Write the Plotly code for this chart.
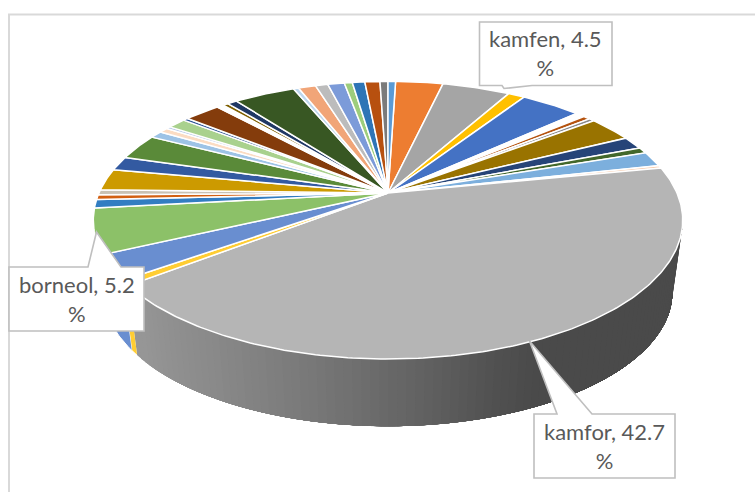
import math
import plotly.graph_objects as go

# ---- data (percent shares) ----
categories = ["složka 1", "kamfen", "složka 3", "složka 4", "složka 5", "složka 6", "složka 7", "složka 8",
              "složka 9", "složka 10", "složka 11", "složka 12", "kamfor", "složka 14", "složka 15", "borneol",
              "složka 17", "složka 18", "složka 19", "složka 20", "složka 21", "složka 22", "složka 23", "složka 24",
              "složka 25", "složka 26", "složka 27", "složka 28", "složka 29", "složka 30", "složka 31", "složka 32",
              "složka 33", "složka 34", "složka 35", "složka 36", "složka 37", "složka 38", "složka 39", "složka 40",
              "složka 41"]
values = [3.14, 4.5, 1.1, 4.0, 0.6, 0.47, 0.36, 2.97,
          1.5, 0.7, 1.75, 0.3, 42.7, 0.6, 2.9, 5.2,
          1.0, 0.55, 0.6, 2.5, 1.65, 3.0, 0.83, 0.6,
          0.28, 1.22, 0.33, 2.4, 0.45, 0.35, 0.65, 4.05,
          0.35, 1.15, 0.83, 1.1, 0.53, 0.83, 1.0, 0.53, 0.5]
colors = ["#ed7d31", "#a5a5a5", "#ffc000", "#4472c4", "#ffffff", "#b5530f", "#8a8a8a", "#997300",
          "#264478", "#43682b", "#7cafdd", "#f6c9a8", "#b5b5b5", "#ffcd33", "#698ed0", "#8cc168",
          "#327dc2", "#d26012", "#c9c2b4", "#cc9a00", "#335aa1", "#5a8a39", "#9dc3e6", "#fbdcc3",
          "#b4c7e7", "#a9d18e", "#2f5597", "#843c0c", "#ffffff", "#7f6000", "#203864", "#385723",
          "#bdd7ee", "#f1a578", "#bcbcbc", "#7c9bd9", "#9dcd7c", "#2e75b6", "#b7500f", "#7b7b7b", "#5b9bd5"]
labelled = {"kamfen": (545.5, 53), "kamfor": (604.5, 446), "borneol": (76.5, 299)}

# ---- projection of the tilted disc ----
CX, CY = 388.0, 193.0
A, B, D = -0.196, 133.5, 289.0
S, H = 0.965, 73.0
ROT = 1.8
SIL_R, SIL_L = 101.3, 258.7


def top(theta):
    t = math.radians(theta)
    u, v = math.sin(t), -math.cos(t)
    w = 1 + A * v
    return CX + D * u / w, CY + B * v / w


def low(theta):
    x, y = top(theta)
    return CX + S * (x - CX), CY + H + S * (y - CY)


def arc(a0, a1):
    n = max(2, int(abs(a1 - a0) / 0.75) + 1)
    return [a0 + (a1 - a0) * i / (n - 1) for i in range(n)]


def side_shade(x):
    stops = [(137, 0x96), (300, 0x7a), (400, 0x66), (500, 0x50), (540, 0x4a), (700, 0x4a)]
    for (x0, c0), (x1, c1) in zip(stops, stops[1:]):
        if x <= x1:
            g = int(round(c0 + (c1 - c0) * max(0, x - x0) / (x1 - x0)))
            return f"rgb({g},{g},{g})"
    return "rgb(74,74,74)"


total = sum(values)
edges = [ROT]
for val in values:
    edges.append(edges[-1] + val / total * 360)

fig = go.Figure()


def poly(xs, ys, fill, line=None, width=0):
    fig.add_trace(go.Scatter(x=xs, y=ys, mode="lines", fill="toself", fillcolor=fill,
                             line=dict(color=line or fill, width=width), hoverinfo="skip", showlegend=False))


# side wall
for i, name in enumerate(categories):
    a0, a1 = max(edges[i], SIL_R), min(edges[i + 1], SIL_L)
    if a1 <= a0:
        continue
    if name == "kamfor":
        n = 90
        for k in range(n):
            c = a1 - (a1 - a0) * k / n
            pts = arc(a0, c)
            tp = [top(p) for p in pts]
            lw = [low(p) for p in reversed(pts)]
            shade = side_shade(top(c - (a1 - a0) / n / 2)[0])
            poly([p[0] for p in tp + lw], [p[1] for p in tp + lw], shade)
    else:
        pts = arc(a0, a1)
        tp = [top(p) for p in pts]
        lw = [low(p) for p in reversed(pts)]
        poly([p[0] for p in tp + lw], [p[1] for p in tp + lw], colors[i], "#ffffff", 1)

# top face
for i, name in enumerate(categories):
    rim = [top(p) for p in arc(edges[i], edges[i + 1])]
    xs = [CX] + [p[0] for p in rim] + [CX]
    ys = [CY] + [p[1] for p in rim] + [CY]
    poly(xs, ys, colors[i], "#ffffff", 1.5)

# frame
shapes = [
    dict(type="line", x0=9, x1=9, y0=14.5, y1=492, line=dict(color="#d9d9d9", width=2)),
    dict(type="line", x0=8, x1=755, y0=14.5, y1=14.5, line=dict(color="#d9d9d9", width=2)),
]
# callouts
BOX = dict(line=dict(color="#bfbfbf", width=1.6), fillcolor="#ffffff", layer="above")
for path in [
    "M479.5,22 L612,22 L612,85.5 L532,85.5 L504,88.5 L502,85.5 L479.5,85.5 Z",
    "M534,414 L557,414 L529.5,341 L592,414 L675,414 L675,478 L534,478 Z",
    "M9,267 L88,267 L96.5,232 L121,267 L144,267 L144,331 L9,331 Z",
]:
    shapes.append(dict(type="path", path=path, **BOX))

annotations = []
for i, name in enumerate(categories):
    if name in labelled:
        x, y = labelled[name]
        annotations.append(dict(x=x, y=y, xref="x", yref="y", text=f"{name}, {values[i]}<br>%", showarrow=False,
                                font=dict(family="Lato", size=22, color="#595959"), align="center"))

fig.update_layout(
    width=755, height=492, margin=dict(l=0, r=0, t=0, b=0), autosize=False,
    paper_bgcolor="#ffffff", plot_bgcolor="#ffffff", shapes=shapes, annotations=annotations,
    xaxis=dict(range=[0, 755], visible=False, fixedrange=True),
    yaxis=dict(range=[492, 0], visible=False, fixedrange=True),
)
fig.write_html("out.html", config={"displayModeBar": False},
               post_script="document.body.style.margin='0';document.documentElement.style.overflow='hidden';")
